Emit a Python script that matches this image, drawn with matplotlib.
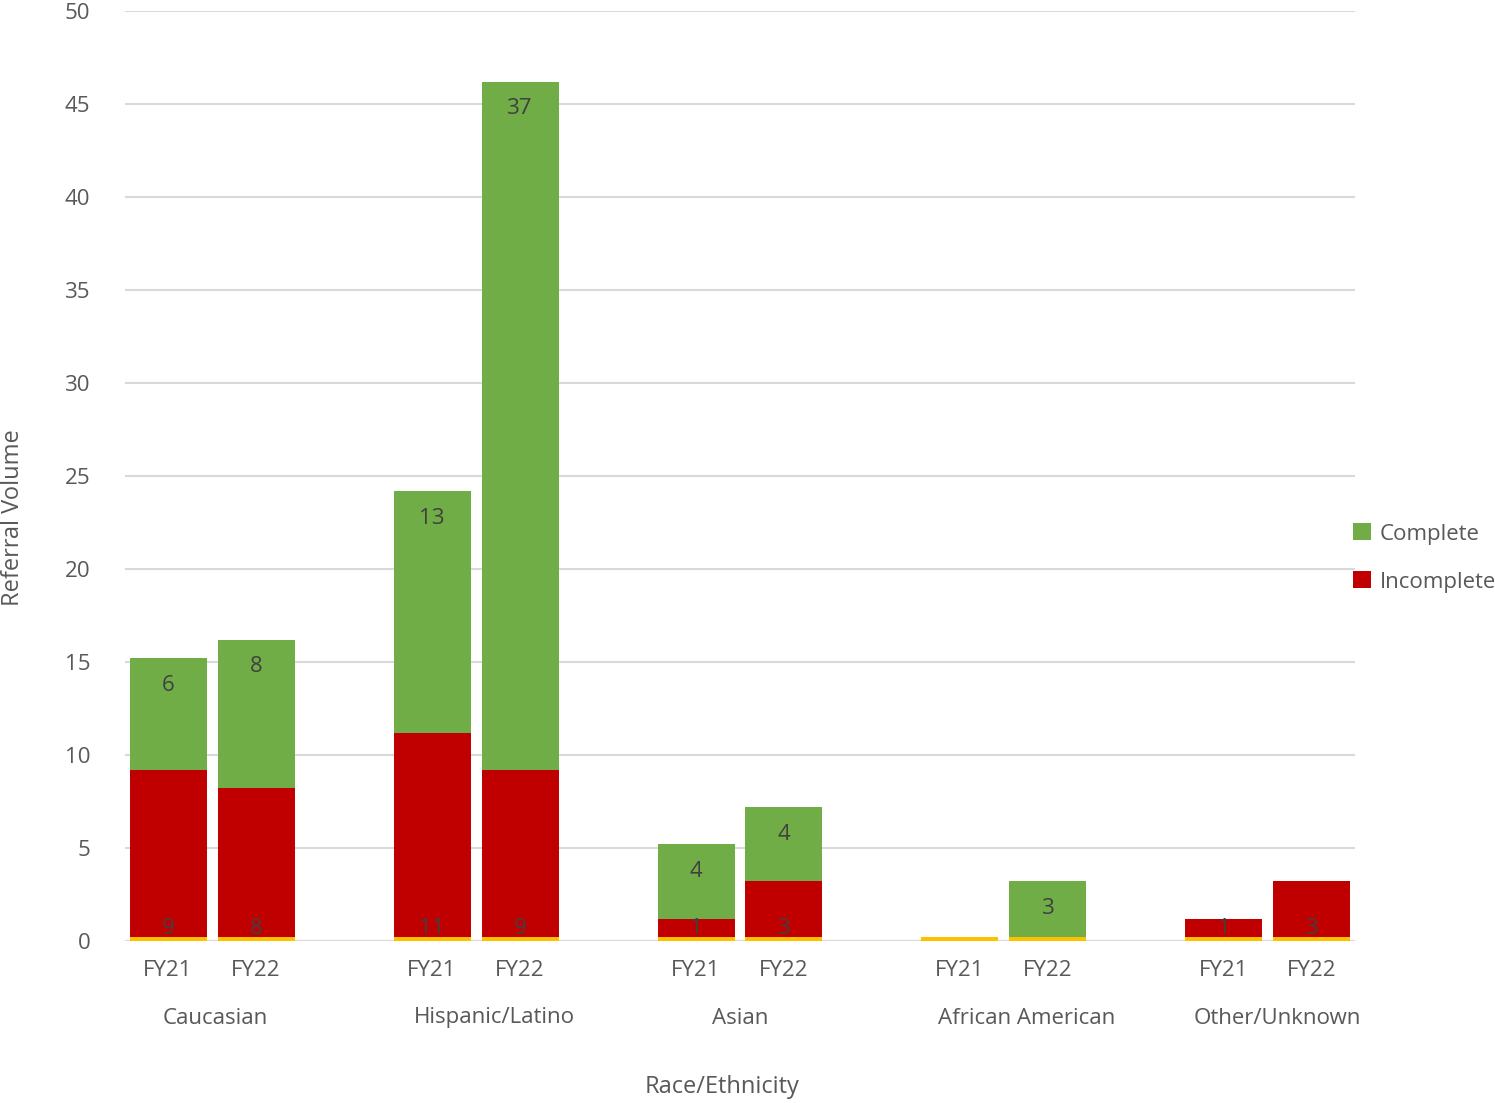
import matplotlib
matplotlib.use("Agg")
import matplotlib.pyplot as plt
import numpy as np

groups = ["Caucasian", "Hispanic/Latino", "Asian", "African American", "Other/Unknown"]
years = ["FY21", "FY22"]
incomplete = [9, 8, 11, 9, 1, 3, 0, 0, 1, 3]
complete = [6, 8, 13, 37, 4, 4, 0, 3, 0, 0]
base = [0.2] * 10

plt.rcParams["font.family"] = "Open Sans"
txt = "#595959"
W, H = 1495, 1103
fig = plt.figure(figsize=(W/100, H/100), dpi=100)
ax = fig.add_axes([125/W, (H-941)/H, (1355-125)/W, (941-11)/H])

x = []
for g in range(len(groups)):
    x += [3*g, 3*g+1]
x = np.array(x, dtype=float)
inc = np.array(incomplete, float); com = np.array(complete, float); b = np.array(base)
w = 0.875
ax.bar(x, b, w, color="#ffc000", zorder=3)
ax.bar(x, inc, w, bottom=b, color="#c00000", label="Incomplete", zorder=3)
ax.bar(x, com, w, bottom=b+inc, color="#70ad47", label="Complete", zorder=3)
for xi, bi, ii, ci in zip(x, b, inc, com):
    if ii > 0:
        ax.text(xi, bi - 0.1, f"{int(ii)}", ha="center", va="bottom", fontsize=16, color="#404040", zorder=4)
    if ci > 0:
        ax.text(xi, bi + ii + ci - 0.9, f"{int(ci)}", ha="center", va="top", fontsize=16, color="#404040", zorder=4)

ax.set_ylim(0, 50)
ax.set_xlim(-0.49, 13.49)
ax.set_yticks(range(0, 51, 5))
ax.yaxis.grid(True, color="#d9d9d9", linewidth=1.5, zorder=0)
for s in ax.spines.values():
    s.set_visible(False)
ax.axhline(0, color="#d9d9d9", linewidth=1.5, zorder=2)
ax.tick_params(axis="y", length=0, labelsize=16, labelcolor=txt, pad=25)
ax.set_xticks(x)
ax.set_xticklabels(years * len(groups))
ax.tick_params(axis="x", length=0, labelsize=16, labelcolor=txt, pad=14)
gx = [215, 494, 740, 1027, 1277]
for px, name in zip(gx, groups):
    fig.text(px/W, (H-1018)/H, name, ha="center", va="center", fontsize=16, color=txt)
fig.text(722/W, (H-1087)/H, "Race/Ethnicity", ha="center", va="center", fontsize=17, color=txt)
fig.text(13/W, (H-518)/H, "Referral Volume", ha="center", va="center", rotation=90, fontsize=17, color=txt)

h, l = ax.get_legend_handles_labels()
fig.legend(h[::-1], l[::-1], loc="center left", bbox_to_anchor=(1333/W, (H-558)/H),
           frameon=False, fontsize=16, labelcolor=txt, handlelength=0.8, handleheight=0.8,
           handletextpad=0.4, labelspacing=1.2)
fig.savefig("out.png", dpi=100)
